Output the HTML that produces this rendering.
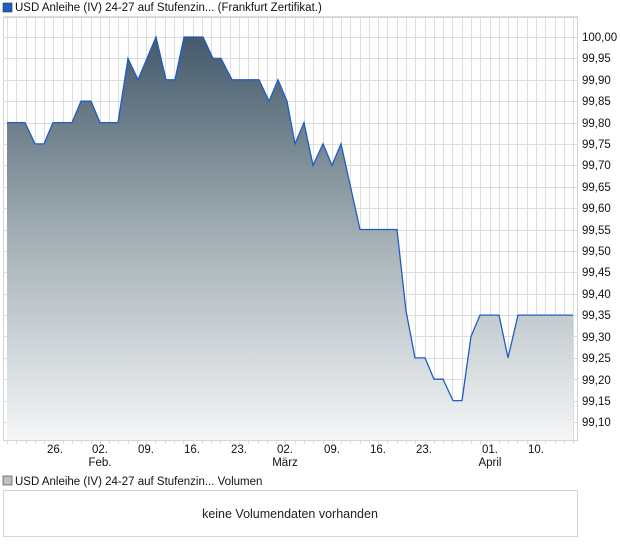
<!DOCTYPE html>
<html><head><meta charset="utf-8"><style>
body{margin:0;background:#fff;width:620px;height:546px;overflow:hidden;font-family:"Liberation Sans",sans-serif;}
svg text{font-family:"Liberation Sans",sans-serif;}
</style></head><body>
<svg width="620" height="546" viewBox="0 0 620 546" xmlns="http://www.w3.org/2000/svg">
<defs>
<linearGradient id="g" x1="0" y1="37" x2="0" y2="441" gradientUnits="userSpaceOnUse">
<stop offset="0" stop-color="#44596a"/>
<stop offset="0.5" stop-color="#a4b0b6"/>
<stop offset="1" stop-color="#f5f6f7"/>
</linearGradient>
</defs>
<rect x="3" y="3" width="9" height="9" fill="#1f5fbf" stroke="#333" stroke-width="0.6"/>
<text x="15" y="11" font-size="11.5" fill="#111">USD Anleihe (IV) 24-27 auf Stufenzin... (Frankfurt Zertifikat.)</text>
<g id="grid" stroke="#dddddd" stroke-width="1" shape-rendering="crispEdges"></g>
<polygon id="area" fill="url(#g)"/>
<polyline id="line" fill="none" stroke="#1f5cc4" stroke-width="1.3"/>
<rect x="3.5" y="17.5" width="574" height="423" fill="none" stroke="#d4d4d4"/>
<g font-size="11.5" fill="#111">
<text x="582" y="41">100,00</text><text x="582" y="62">99,95</text><text x="582" y="84">99,90</text>
<text x="582" y="105">99,85</text><text x="582" y="127">99,80</text><text x="582" y="148">99,75</text>
<text x="582" y="169">99,70</text><text x="582" y="191">99,65</text><text x="582" y="212">99,60</text>
<text x="582" y="234">99,55</text><text x="582" y="255">99,50</text><text x="582" y="276">99,45</text>
<text x="582" y="298">99,40</text><text x="582" y="319">99,35</text><text x="582" y="341">99,30</text>
<text x="582" y="362">99,25</text><text x="582" y="384">99,20</text><text x="582" y="405">99,15</text>
<text x="582" y="426">99,10</text>
</g>
<g font-size="11.5" fill="#111" text-anchor="middle">
<text x="55" y="453">26.</text><text x="100" y="453">02.</text><text x="100" y="466">Feb.</text>
<text x="146" y="453">09.</text><text x="192" y="453">16.</text><text x="239" y="453">23.</text>
<text x="285" y="453">02.</text><text x="285" y="466">März</text>
<text x="332" y="453">09.</text><text x="378" y="453">16.</text><text x="424" y="453">23.</text>
<text x="490" y="453">01.</text><text x="490" y="466">April</text><text x="536" y="453">10.</text>
</g>
<rect x="3" y="476" width="9" height="9" fill="#c0c0c0" stroke="#333" stroke-width="0.6"/>
<text x="15" y="485" font-size="11.5" fill="#111">USD Anleihe (IV) 24-27 auf Stufenzin... Volumen</text>
<rect x="3.5" y="490.5" width="574" height="46" fill="#fff" stroke="#d4d4d4"/>
<text x="290" y="518" font-size="12.5" fill="#222" text-anchor="middle">keine Volumendaten vorhanden</text>
<script>
var NS='http://www.w3.org/2000/svg';
var g=document.getElementById('grid');
function L(x1,y1,x2,y2){var e=document.createElementNS(NS,'line');e.setAttribute('x1',x1);e.setAttribute('y1',y1);e.setAttribute('x2',x2);e.setAttribute('y2',y2);g.appendChild(e);}
for(var x=7;x<578;x+=9.28){var r=Math.round(x)+0.5;L(r,18,r,441);L(r,441,r,444);}
for(var y=37-21.39;y<441;y+=21.39){var q=Math.round(y)+0.5;L(4,q,578,q);}
function Y(v){return 37+(100-v)/0.05*21.39;}
var p=[[7,99.80],[25,99.80],[35,99.75],[44,99.75],[53,99.80],[72,99.80],[81,99.85],[91,99.85],[100,99.80],[118,99.80],[128,99.95],[138,99.90],[156,100],[166,99.90],[175,99.90],[184,100],[203,100],[213,99.95],[221,99.95],[232,99.90],[259,99.90],[269,99.85],[278,99.90],[287,99.85],[295,99.75],[304,99.80],[313,99.70],[323,99.75],[332,99.70],[341,99.75],[360,99.55],[397,99.55],[406,99.36],[415,99.25],[425,99.25],[434,99.20],[443,99.20],[453,99.15],[462,99.15],[471,99.30],[480,99.35],[499,99.35],[508,99.25],[518,99.35],[573,99.35]];
var pts=p.map(function(a){return a[0]+','+Y(a[1]).toFixed(1);}).join(' ');
document.getElementById('line').setAttribute('points',pts);
document.getElementById('area').setAttribute('points','7,441 '+pts+' 573,441');
</script>
</svg>
</body></html>
